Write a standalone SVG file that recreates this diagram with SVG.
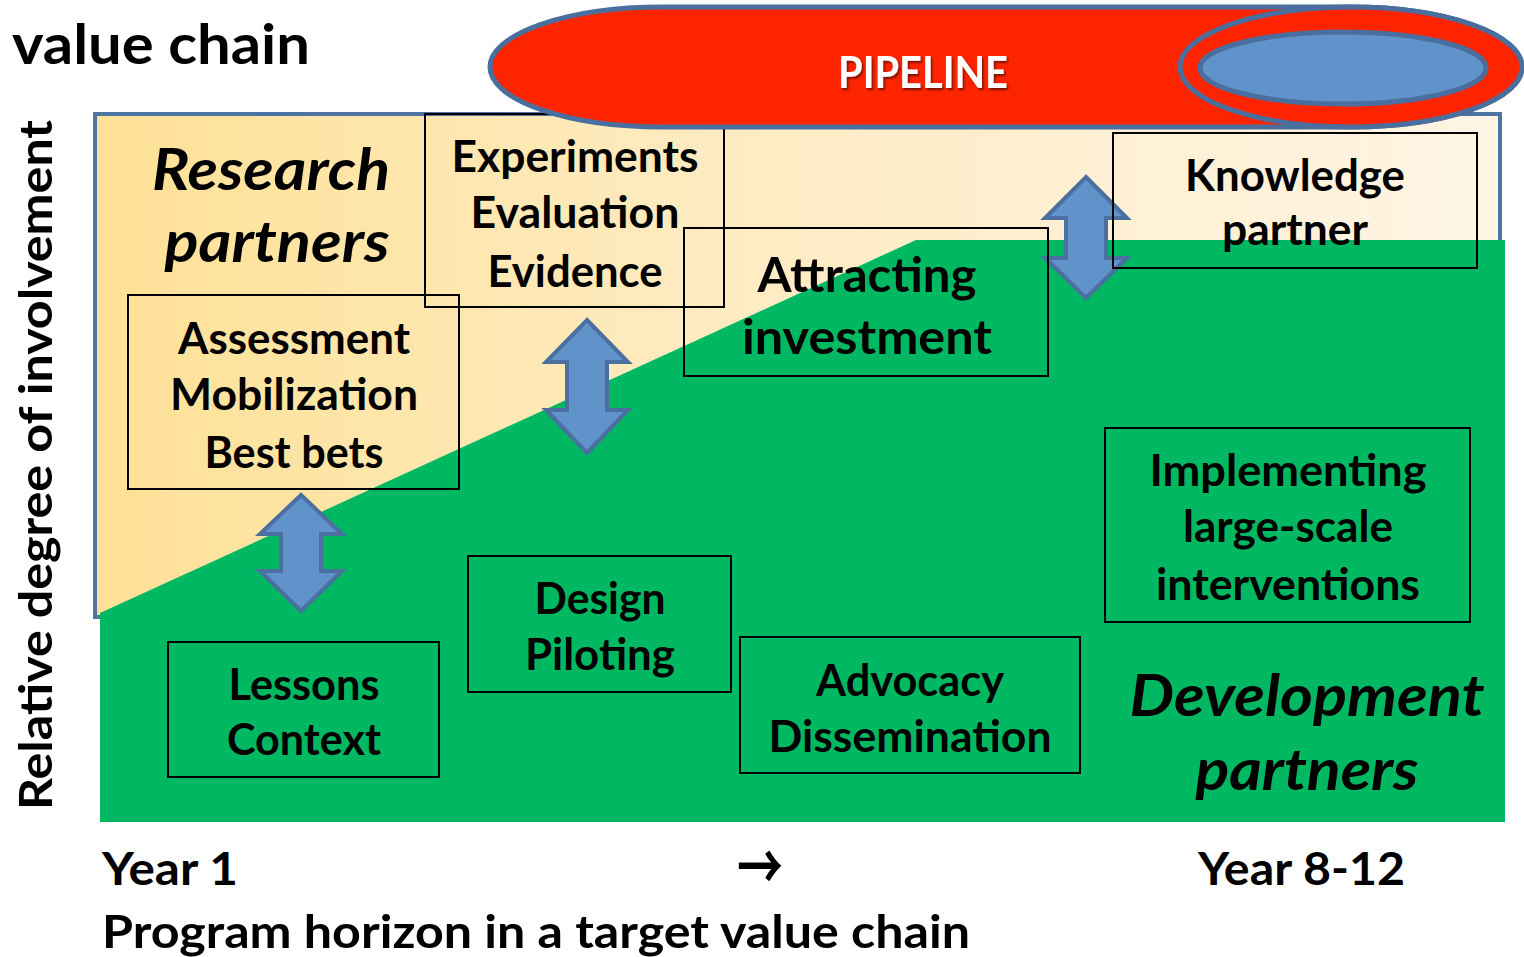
<svg xmlns="http://www.w3.org/2000/svg" width="1524" height="957" viewBox="0 0 1524 957">
  <defs>
    <linearGradient id="gY" x1="0" y1="0" x2="1" y2="0">
      <stop offset="0" stop-color="#FEE196"/>
      <stop offset="0.45" stop-color="#FEEBC2"/>
      <stop offset="1" stop-color="#FFF5E4"/>
    </linearGradient>
    <filter id="sh" x="-10%" y="-20%" width="130%" height="150%">
      <feDropShadow dx="1.5" dy="2" stdDeviation="1.2" flood-color="#000" flood-opacity="0.55"/>
    </filter>
  </defs>
  <style>
    text { font-family: Lato, "Open Sans", "Liberation Sans", sans-serif; font-weight: bold; fill: #000; }
    .n { font-size: 43px; text-anchor: middle; }
    .big { font-size: 47px; text-anchor: middle; }
    .it { font-size: 57px; font-style: italic; text-anchor: middle; }
    .ax { font-size: 46px; }
    .box { fill: none; stroke: #000; stroke-width: 2; }
    .arr { fill: #6093C9; stroke: #4A6FA0; stroke-width: 4; stroke-linejoin: miter; }
    .pipe { fill: #FF2400; stroke: #4A6E9D; stroke-width: 5; }
  </style>

  <rect width="1524" height="957" fill="#FFFFFF"/>

  <g id="title">
    <text x="12" y="64" style="font-size:56px" textLength="298" lengthAdjust="spacingAndGlyphs">value chain</text>
  </g>

  <g id="background">
    <rect x="95" y="114" width="1405" height="503" fill="url(#gY)" stroke="#4D74A3" stroke-width="4"/>
    <polygon points="100,613 916,240 1505,240 1505,822 100,822" fill="#00B862"/>
  </g>

  <g id="connectors">
    <path class="arr" d="M301,495 L342,534 L321,534 L321,571 L342,571 L301,611 L260,571 L281,571 L281,534 L260,534 Z"/>
    <path class="arr" d="M587,320 L628,362 L607,362 L607,410 L628,410 L587,453 L546,410 L567,410 L567,362 L546,362 Z"/>
    <path class="arr" d="M1086,177 L1127,218 L1106,218 L1106,258 L1127,258 L1086,298 L1045,258 L1066,258 L1066,218 L1045,218 Z"/>
  </g>

  <g id="research-partners">
    <text class="it" x="271" y="190" textLength="238" lengthAdjust="spacingAndGlyphs">Research</text>
    <text class="it" x="277" y="262" textLength="225" lengthAdjust="spacingAndGlyphs">partners</text>
  </g>

  <g id="experiments">
    <rect class="box" x="425" y="114" width="299" height="193"/>
    <text class="n" x="575" y="172" textLength="247" lengthAdjust="spacingAndGlyphs">Experiments</text>
    <text class="n" x="575" y="228" textLength="209" lengthAdjust="spacingAndGlyphs">Evaluation</text>
    <text class="n" x="575" y="287" textLength="175" lengthAdjust="spacingAndGlyphs">Evidence</text>
  </g>

  <g id="assessment">
    <rect class="box" x="128" y="295" width="331" height="194"/>
    <text class="n" x="294" y="354" textLength="232" lengthAdjust="spacingAndGlyphs">Assessment</text>
    <text class="n" x="294" y="410" textLength="248" lengthAdjust="spacingAndGlyphs">Mobilization</text>
    <text class="n" x="294" y="468" textLength="179" lengthAdjust="spacingAndGlyphs">Best bets</text>
  </g>

  <g id="attracting">
    <rect class="box" x="684" y="228" width="364" height="148"/>
    <text class="big" x="867" y="292" textLength="219" lengthAdjust="spacingAndGlyphs">Attracting</text>
    <text class="big" x="867" y="354" textLength="250" lengthAdjust="spacingAndGlyphs">investment</text>
  </g>

  <g id="knowledge">
    <rect class="box" x="1113" y="133" width="364" height="135"/>
    <text class="n" x="1295" y="191" textLength="220" lengthAdjust="spacingAndGlyphs">Knowledge</text>
    <text class="n" x="1295" y="245" textLength="146" lengthAdjust="spacingAndGlyphs">partner</text>
  </g>

  <g id="implementing">
    <rect class="box" x="1105" y="428" width="365" height="194"/>
    <text class="n" x="1288" y="486" textLength="277" lengthAdjust="spacingAndGlyphs">Implementing</text>
    <text class="n" x="1288" y="542" textLength="210" lengthAdjust="spacingAndGlyphs">large-scale</text>
    <text class="n" x="1288" y="600" textLength="264" lengthAdjust="spacingAndGlyphs">interventions</text>
  </g>

  <g id="design">
    <rect class="box" x="468" y="556" width="263" height="136"/>
    <text class="n" x="600" y="614" textLength="131" lengthAdjust="spacingAndGlyphs">Design</text>
    <text class="n" x="600" y="670" textLength="150" lengthAdjust="spacingAndGlyphs">Piloting</text>
  </g>

  <g id="lessons">
    <rect class="box" x="168" y="642" width="271" height="135"/>
    <text class="n" x="304" y="700" textLength="151" lengthAdjust="spacingAndGlyphs">Lessons</text>
    <text class="n" x="304" y="755" textLength="154" lengthAdjust="spacingAndGlyphs">Context</text>
  </g>

  <g id="advocacy">
    <rect class="box" x="740" y="637" width="340" height="136"/>
    <text class="n" x="910" y="696" textLength="188" lengthAdjust="spacingAndGlyphs">Advocacy</text>
    <text class="n" x="910" y="752" textLength="283" lengthAdjust="spacingAndGlyphs">Dissemination</text>
  </g>

  <g id="development-partners">
    <text class="it" x="1307" y="716" textLength="355" lengthAdjust="spacingAndGlyphs">Development</text>
    <text class="it" x="1307" y="790" textLength="223" lengthAdjust="spacingAndGlyphs">partners</text>
  </g>

  <g id="pipeline">
    <path class="pipe" d="M662,7 L1351,7 A171,60 0 0 1 1351,127 L662,127 A172,60 0 0 1 662,7 Z"/>
    <ellipse class="pipe" cx="1351" cy="67" rx="171" ry="60"/>
    <ellipse cx="1343" cy="68" rx="143" ry="36" fill="#6093C9" stroke="#4A6E9D" stroke-width="5"/>
    <text x="923" y="88" style="font-size:44px;fill:#FFFFFF;text-anchor:middle" filter="url(#sh)" textLength="170" lengthAdjust="spacingAndGlyphs">PIPELINE</text>
  </g>

  <g id="y-axis">
    <text class="ax" transform="translate(52,465) rotate(-90)" style="text-anchor:middle" textLength="690" lengthAdjust="spacingAndGlyphs">Relative degree of involvement</text>
  </g>

  <g id="x-axis">
    <text class="ax" x="102" y="885" textLength="136" lengthAdjust="spacingAndGlyphs">Year 1</text>
    <text x="760" y="890" style="font-family:'Noto Sans CJK SC',sans-serif;font-weight:bold;font-size:64px;text-anchor:middle" textLength="46" lengthAdjust="spacingAndGlyphs">→</text>
    <text class="ax" x="1198" y="885" textLength="207" lengthAdjust="spacingAndGlyphs">Year 8-12</text>
    <text class="ax" x="102" y="948" textLength="868" lengthAdjust="spacingAndGlyphs">Program horizon in a target value chain</text>
  </g>
</svg>
